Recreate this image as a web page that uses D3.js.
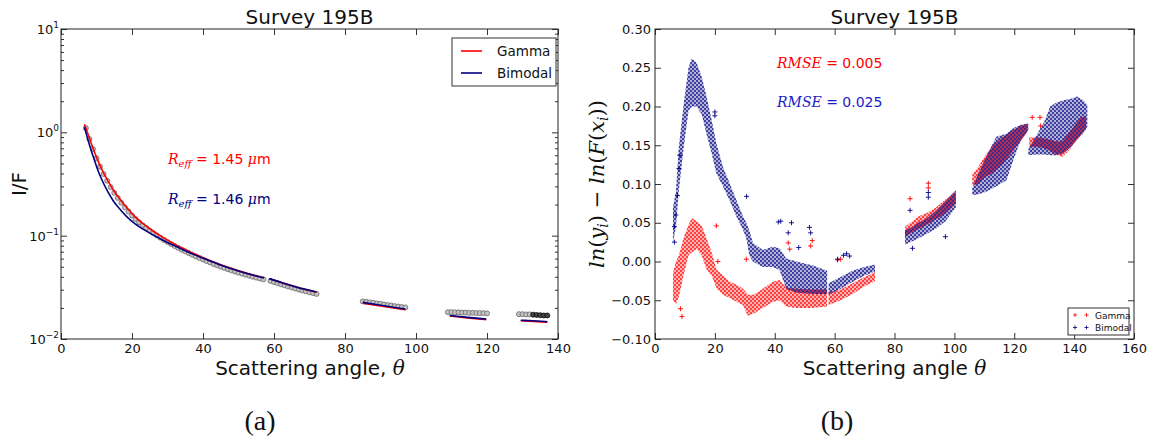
<!doctype html>
<html>
<head>
<meta charset="utf-8">
<title>Survey 195B</title>
<script src="https://cdn.jsdelivr.net/npm/d3@7"></script>
<style>
body{margin:0;background:#fff;}
</style>
</head>
<body>
<script>

// ---- LEFT PANEL DATA (I/F vs scattering angle) ----
var obsTheta = [7,8,9,10,11,12,13,14,15,16,17,18,19,20,21,22,23,24,25,26,27,28,29,30,31,32,33,34,35,36,37,38,39,40,41,42,43,44,45,46,47,48,49,50,51,52,53,54,55,56,57,
  59,60,61,62,63,64,65,66,67,68,69,70,71,72,
  85,86,87,88,89,90,91,92,93,94,95,96,97,
  109,110,111,112,113,114,115,116,117,118,119,120,
  129,130,131,132,133,134,135,136,137];
var obsVal = [1.10,0.86,0.69,0.56,0.465,0.395,0.34,0.295,0.26,0.232,0.208,0.188,0.171,0.157,0.145,0.135,0.126,0.119,0.112,0.106,0.1005,0.0955,0.091,0.087,0.083,0.0795,0.0762,0.0732,0.0705,0.0678,0.0653,0.063,0.0608,0.0588,0.0568,0.055,0.0532,0.0516,0.0501,0.0487,0.0474,0.0462,0.045,0.0439,0.0429,0.0419,0.041,0.0401,0.0393,0.0385,0.0378,
  0.0365,0.0356,0.0347,0.0338,0.033,0.0322,0.0315,0.0308,0.0301,0.0295,0.0289,0.0283,0.0278,0.0273,
  0.0231,0.0229,0.0226,0.0224,0.0221,0.0219,0.0216,0.0213,0.0211,0.0208,0.0206,0.0204,0.0202,
  0.0182,0.0182,0.0181,0.0181,0.018,0.018,0.0179,0.0179,0.0178,0.0178,0.0178,0.0177,
  0.0174,0.0174,0.0173,0.0173,0.0172,0.0171,0.017,0.0169,0.0169];

// fitted curves, null = gap between segments
var fitTheta = [6.6,8,9.1,10.5,11.9,13.3,14.7,16.5,18.5,20.8,23.2,25.5,27.9,30,32.6,35,37.3,40,42,44.5,46.7,49,51.4,54,57.2,null,
  58.7,62,66,69,72,null, 85,91,97,null, 109.5,114.5,119.8,null, 129.5,133,137];
var gammaFit = [1.2,0.88,0.69,0.52,0.41,0.335,0.278,0.228,0.187,0.153,0.130,0.1135,0.100,0.0905,0.0806,0.0733,0.0672,0.0612,0.0572,0.0529,0.0497,0.0468,0.0442,0.0417,0.0391,null,
  0.0383,0.0352,0.032,0.030,0.0284,null, 0.0222,0.0207,0.0192,null, 0.0167,0.016,0.0154,null, 0.015,0.0148,0.0145];
var bimodalFit = [1.12,0.76,0.58,0.42,0.325,0.262,0.218,0.182,0.153,0.131,0.115,0.1035,0.0935,0.0858,0.078,0.0714,0.0659,0.0605,0.0568,0.0527,0.0496,0.0467,0.0441,0.0416,0.039,null,
  0.0384,0.0353,0.0321,0.0301,0.0285,null, 0.0226,0.021,0.0195,null, 0.0169,0.0162,0.0156,null, 0.0152,0.015,0.0147];

// ---- RIGHT PANEL DATA (residual clouds: lower / upper edge) ----
var gammaBandTheta = [6,7,8,9.5,11.2,12.3,13.9,15.6,17.2,18.9,20.5,22.7,25,27.2,29.4,31,33,36,39.4,41.6,43.8,47,52,57.5,null,
  58,62,66,70,73.5,null, 83.5,86,88,91,94,97,100.5,null, 106,108,110,113,116,119,122,124.5,null, 125,128,131,134,136,138,140,142,144];
var gammaBandLo = [-0.05,-0.055,-0.045,-0.018,0.008,0.012,0.016,0.008,-0.01,-0.018,-0.034,-0.043,-0.047,-0.052,-0.056,-0.07,-0.067,-0.06,-0.052,-0.05,-0.058,-0.06,-0.06,-0.058,null,
  -0.056,-0.05,-0.042,-0.032,-0.025,null, 0.032,0.038,0.042,0.048,0.055,0.062,0.075,null, 0.098,0.1,0.108,0.115,0.125,0.14,0.155,0.168,null, 0.148,0.148,0.145,0.138,0.135,0.142,0.152,0.162,0.172];
var gammaBandHi = [-0.015,0.0,0.008,0.03,0.047,0.056,0.052,0.046,0.03,0.012,-0.01,-0.018,-0.026,-0.03,-0.035,-0.043,-0.043,-0.035,-0.026,-0.024,-0.034,-0.035,-0.036,-0.036,null,
  -0.04,-0.036,-0.028,-0.02,-0.014,null, 0.045,0.052,0.058,0.063,0.07,0.08,0.09,null, 0.112,0.122,0.135,0.15,0.16,0.168,0.175,0.178,null, 0.16,0.16,0.158,0.155,0.155,0.165,0.175,0.185,0.188];

var bimodalBandTheta = [6,7,7.9,9.5,11.2,12.3,13.9,15.6,17.2,18.9,20.5,22.7,24.9,27.2,29.4,30.5,31.5,32.7,36,39.4,41.6,43.8,47.2,52.7,57.5,null,
  58,62,66,70,73.5,null, 83.5,86,88,91,94,97,100.5,null, 106,107.5,110.6,114,117.4,119.7,122,124.7,null, 124.7,127,130,132,134,136.5,139,141,143,144.4];
var bimodalBandLo = [0.025,0.045,0.09,0.145,0.195,0.2,0.2,0.19,0.165,0.14,0.114,0.097,0.079,0.058,0.041,0.03,0.008,0.0,-0.007,-0.007,-0.011,-0.035,-0.04,-0.042,-0.042,null,
  -0.043,-0.035,-0.026,-0.018,-0.013,null, 0.022,0.026,0.03,0.036,0.043,0.052,0.07,null, 0.086,0.086,0.09,0.097,0.105,0.131,0.155,0.17,null, 0.137,0.138,0.138,0.137,0.137,0.14,0.148,0.158,0.165,0.174];
var bimodalBandHi = [0.07,0.09,0.145,0.2,0.25,0.262,0.256,0.238,0.213,0.183,0.152,0.122,0.101,0.079,0.058,0.05,0.04,0.024,0.015,0.019,0.017,0.004,0.0,-0.005,-0.012,null,
  -0.028,-0.02,-0.012,-0.007,-0.004,null, 0.04,0.045,0.05,0.056,0.066,0.078,0.092,null, 0.095,0.109,0.135,0.161,0.165,0.172,0.176,0.178,null, 0.145,0.16,0.18,0.2,0.205,0.208,0.21,0.213,0.208,0.202];

// stray points outside the clouds
var gammaOutTheta = [8.5,9,20.5,21,30.5,44.5,45,52,52.5,61,62,85.2,91.3,91.3,126,128.6,128.8];
var gammaOutVal = [-0.061,-0.071,0.046,0.0,0.003,0.024,0.016,0.02,0.027,0.002,0.003,0.081,0.101,0.095,0.186,0.186,0.175];
var bimodalOutTheta = [6.5,6.5,7,7.5,8,8.3,20,20,30.6,41.2,42,45.6,44.5,51.6,52,48,61,63,64,65,85.2,86,91.3,91.3,97];
var bimodalOutVal = [0.025,0.045,0.06,0.085,0.12,0.137,0.193,0.188,0.084,0.051,0.052,0.05,0.037,0.044,0.037,0.018,0.003,0.008,0.01,0.007,0.066,0.017,0.089,0.083,0.032];

var xTicksL = [0,20,40,60,80,100,120,140];
var yMajorL = [0.01,0.1,1,10];
var yExpL = ["\u22122","\u22121","0","1"];
var xTicksR = [0,20,40,60,80,100,120,140,160];
var yTicksR = [-0.10,-0.05,0.00,0.05,0.10,0.15,0.20,0.25,0.30];

var RED = "#ff0000", NAVY = "#000080";
var SANS = "DejaVu Sans", SERIF = "DejaVu Serif";

var svg = d3.select("body").append("svg").attr("width",1158).attr("height",436)
  .attr("font-family",SANS);
var defs = svg.append("defs");

// grid of '+' markers used to paint the dense scatter clouds
function plusPattern(id, color, dx){
  var p = defs.append("pattern").attr("id",id)
    .attr("patternUnits","userSpaceOnUse").attr("width",4).attr("height",4)
    .attr("patternTransform","translate("+dx+",0)");
  p.append("path")
    .attr("d","M0.1,1H1.9M1,0.1V1.9M2.1,3H3.9M3,2.1V3.9")
    .attr("stroke",color).attr("stroke-width",0.9).attr("fill","none");
}
plusPattern("pGamma", RED, 2);
plusPattern("pBimodal", NAVY, 0);

//SCALES
var xL = d3.scaleLinear().domain([0,140]).range([61,558]);
var yL = d3.scaleLog().domain([0.01,10]).range([339,29]);
var xR = d3.scaleLinear().domain([0,160]).range([655,1134]);
var yR = d3.scaleLinear().domain([-0.10,0.30]).range([339,29]);

function styleAxis(g){
  g.select(".domain").remove();
  g.selectAll("line").attr("stroke","#333");
  g.selectAll("text").attr("font-size",13).attr("fill","#111").attr("font-family",SANS);
}

//LEFT PANEL AXES
svg.append("g").attr("transform","translate(0,339)")
  .call(d3.axisBottom(xL).tickValues(xTicksL).tickSize(-6).tickPadding(5)).call(styleAxis);
svg.append("g").attr("transform","translate(0,29)")
  .call(d3.axisTop(xL).tickValues(xTicksL).tickSize(-6).tickFormat("")).call(styleAxis);

var minorL = yL.ticks().filter(function(d){ return yMajorL.indexOf(d) < 0; });
[["axisLeft",61],["axisRight",558]].forEach(function(a){
  svg.append("g").attr("transform","translate("+a[1]+",0)")
    .call(d3[a[0]](yL).tickValues(yMajorL).tickSize(-6).tickFormat("")).call(styleAxis);
  svg.append("g").attr("transform","translate("+a[1]+",0)")
    .call(d3[a[0]](yL).tickValues(minorL).tickSize(-3).tickFormat("")).call(styleAxis);
});

var yLab = svg.selectAll("text.ylab").data(yMajorL).enter().append("text")
  .attr("class","ylab")
  .attr("x",59).attr("y",function(d){ return yL(d)+5; })
  .attr("text-anchor","end").attr("font-size",13).attr("fill","#111");
yLab.append("tspan").text("10");
yLab.append("tspan").attr("dy",-6).attr("font-size",9).text(function(d,i){ return yExpL[i]; });

//RIGHT PANEL AXES
svg.append("g").attr("transform","translate(0,339)")
  .call(d3.axisBottom(xR).tickValues(xTicksR).tickSize(-6).tickPadding(5)).call(styleAxis);
svg.append("g").attr("transform","translate(0,29)")
  .call(d3.axisTop(xR).tickValues(xTicksR).tickSize(-6).tickFormat("")).call(styleAxis);
svg.append("g").attr("transform","translate(655,0)")
  .call(d3.axisLeft(yR).tickValues(yTicksR).tickSize(-6).tickPadding(4).tickFormat(d3.format(".2f"))).call(styleAxis);
svg.append("g").attr("transform","translate(1134,0)")
  .call(d3.axisRight(yR).tickValues(yTicksR).tickSize(-6).tickFormat("")).call(styleAxis);

//LEFT PANEL MARKS
svg.append("g").selectAll("circle").data(obsTheta).enter().append("circle")
  .attr("cx",function(d){ return xL(d); })
  .attr("cy",function(d,i){ return yL(obsVal[i]); })
  .attr("r",2.5)
  .attr("fill",function(d){ return d >= 133 ? "#444" : "#c4c4c4"; })
  .attr("stroke",function(d){ return d >= 133 ? "#000" : "#5a5a5a"; })
  .attr("stroke-width",0.7);

function fitLine(vals){
  return d3.line().defined(function(d,i){ return fitTheta[i] != null; })
    .x(function(d,i){ return xL(fitTheta[i]); })
    .y(function(d,i){ return yL(vals[i]); })
    .curve(d3.curveMonotoneX)(vals);
}
svg.append("path").attr("d",fitLine(gammaFit)).attr("fill","none").attr("stroke",RED).attr("stroke-width",1.6);
svg.append("path").attr("d",fitLine(bimodalFit)).attr("fill","none").attr("stroke",NAVY).attr("stroke-width",1.6);

//RIGHT PANEL MARKS
function band(th, lo, hi){
  return d3.area().defined(function(d,i){ return th[i] != null; })
    .x(function(d,i){ return xR(th[i]); })
    .y0(function(d,i){ return yR(lo[i]); })
    .y1(function(d,i){ return yR(hi[i]); })(th);
}
var plus = "M-2.5,0H2.5M0,-2.5V2.5";
function strays(th, vals, color){
  svg.append("g").selectAll("path").data(th).enter().append("path")
    .attr("d",plus)
    .attr("transform",function(d,i){ return "translate("+xR(d)+","+yR(vals[i])+")"; })
    .attr("stroke",color).attr("stroke-width",0.9).attr("fill","none");
}
function cloud(th, lo, hi, color, pat){
  var d = band(th, lo, hi);
  svg.append("path").attr("d",d).attr("fill",color).attr("fill-opacity",0.3);
  svg.append("path").attr("d",d).attr("fill","url(#"+pat+")");
}
cloud(gammaBandTheta,gammaBandLo,gammaBandHi,RED,"pGamma");
strays(gammaOutTheta, gammaOutVal, RED);
cloud(bimodalBandTheta,bimodalBandLo,bimodalBandHi,NAVY,"pBimodal");
strays(bimodalOutTheta, bimodalOutVal, NAVY);

//FRAMES
svg.append("rect").attr("x",61).attr("y",29).attr("width",497).attr("height",310)
  .attr("fill","none").attr("stroke","#222").attr("stroke-width",1);
svg.append("rect").attr("x",655).attr("y",29).attr("width",479).attr("height",310)
  .attr("fill","none").attr("stroke","#222").attr("stroke-width",1);

//TITLES & AXIS LABELS
[309.5, 894.5].forEach(function(cx){
  svg.append("text").attr("x",cx).attr("y",24).attr("text-anchor","middle")
    .attr("font-size",20).attr("fill","#111").text("Survey 195B");
});

svg.append("text").attr("transform","translate(26,184) rotate(-90)")
  .attr("text-anchor","middle").attr("font-size",20).attr("fill","#111").text("I/F");

var xlabA = svg.append("text").attr("x",310).attr("y",375).attr("text-anchor","middle")
  .attr("font-size",20).attr("fill","#111");
xlabA.append("tspan").text("Scattering angle, ");
xlabA.append("tspan").attr("font-family",SERIF).attr("font-style","italic").text("\u03b8");

var xlabB = svg.append("text").attr("x",894.5).attr("y",375).attr("text-anchor","middle")
  .attr("font-size",20).attr("fill","#111");
xlabB.append("tspan").text("Scattering angle ");
xlabB.append("tspan").attr("font-family",SERIF).attr("font-style","italic").text("\u03b8");

// ln(y_i) - ln(F(x_i))
var ylabB = svg.append("text").attr("transform","translate(604,184) rotate(-90)")
  .attr("text-anchor","middle").attr("font-size",21).attr("fill","#111")
  .attr("font-family",SERIF);
[["ln","i"],["(",""],["y","i"],["i","s"],[") \u2212 ",""],["ln","i"],["(",""],["F","i"],["(",""],["x","i"],["i","s"],["))",""]]
  .forEach(function(p){
    var t = ylabB.append("tspan").text(p[0]);
    if(p[1]=="i") t.attr("font-style","italic");
    if(p[1]=="s") t.attr("font-style","italic").attr("font-size",14).attr("baseline-shift","-25%");
  });

[["(a)",260],["(b)",837]].forEach(function(p){
  svg.append("text").attr("x",p[1]).attr("y",430).attr("text-anchor","middle")
    .attr("font-family","Liberation Serif").attr("font-size",28).attr("fill","#111").text(p[0]);
});

//ANNOTATIONS
function reff(y, color, val){
  var t = svg.append("text").attr("x",168).attr("y",y).attr("font-size",14).attr("fill",color);
  t.append("tspan").attr("font-family",SERIF).attr("font-style","italic").attr("font-size",14).text("R");
  t.append("tspan").attr("font-family",SERIF).attr("font-style","italic").attr("font-size",10).attr("baseline-shift","-30%").text("eff");
  t.append("tspan").text(" = "+val+" ");
  t.append("tspan").attr("font-family",SERIF).attr("font-style","italic").text("\u03bc");
  t.append("tspan").text("m");
}
reff(164, RED, "1.45");
reff(204, NAVY, "1.46");

function rmse(y, color, val){
  var t = svg.append("text").attr("x",777).attr("y",y).attr("font-size",14).attr("fill",color);
  t.append("tspan").attr("font-family",SERIF).attr("font-style","italic").text("RMSE");
  t.append("tspan").text(" = "+val);
}
rmse(68, RED, "0.005");
rmse(107, "#1c1cc8", "0.025");

//LEGENDS
svg.append("rect").attr("x",452).attr("y",38).attr("width",104).attr("height",48)
  .attr("fill","#fff").attr("stroke","#333").attr("stroke-width",1);
[["Gamma",RED,51],["Bimodal",NAVY,73]].forEach(function(e){
  svg.append("line").attr("x1",461).attr("x2",482).attr("y1",e[2]).attr("y2",e[2])
    .attr("stroke",e[1]).attr("stroke-width",1.6);
  svg.append("text").attr("x",497).attr("y",e[2]+5).attr("font-size",13.5).attr("fill","#111").text(e[0]);
});

svg.append("rect").attr("x",1068).attr("y",308).attr("width",61).attr("height",27)
  .attr("fill","#fff").attr("stroke","#333").attr("stroke-width",1);
[["Gamma",RED,315],["Bimodal",NAVY,327.5]].forEach(function(e){
  [1075,1086.5].forEach(function(mx){
    svg.append("path").attr("d","M-2,0H2M0,-2V2").attr("transform","translate("+mx+","+e[2]+")")
      .attr("stroke",e[1]).attr("stroke-width",0.8).attr("fill","none");
  });
  svg.append("text").attr("x",1095).attr("y",e[2]+3.5).attr("font-size",9).attr("fill","#111").text(e[0]);
});

</script>
</body>
</html>
